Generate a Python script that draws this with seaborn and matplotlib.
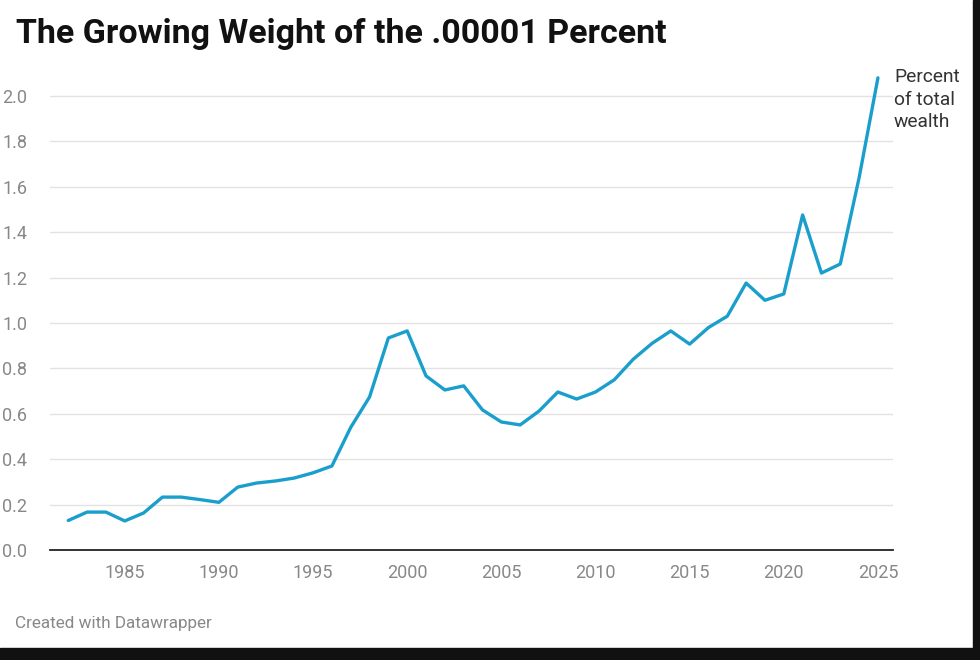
import pandas as pd
import matplotlib.pyplot as plt
import seaborn as sns
from matplotlib.patches import Rectangle

years = list(range(1982, 2026))
share = [0.13, 0.167, 0.167, 0.128, 0.163, 0.233, 0.233, 0.222, 0.21, 0.277,
         0.295, 0.304, 0.317, 0.34, 0.37, 0.54, 0.674, 0.934, 0.965, 0.767,
         0.705, 0.723, 0.617, 0.564, 0.551, 0.612, 0.696, 0.665, 0.696, 0.75,
         0.84, 0.91, 0.965, 0.907, 0.98, 1.03, 1.176, 1.10, 1.128, 1.476,
         1.22, 1.26, 1.64, 2.08]
y_ticks = [0.0, 0.2, 0.4, 0.6, 0.8, 1.0, 1.2, 1.4, 1.6, 1.8, 2.0]
x_ticks = [1985, 1990, 1995, 2000, 2005, 2010, 2015, 2020, 2025]

df = pd.DataFrame({'year': years, 'share': share})

sns.set_style('white')
plt.rcParams['font.family'] = ['Roboto', 'DejaVu Sans']

fig = plt.figure(figsize=(9.8, 6.6), dpi=100)
ax = fig.add_axes([50 / 980, 110 / 660, 843 / 980, 476.7 / 660])

sns.lineplot(data=df, x='year', y='share', ax=ax, color='#1a9fcd',
             linewidth=2.4, clip_on=False)

ax.set_xlim(1981.03, 2025.8)
ax.set_ylim(0, 2.1)
ax.set_yticks(y_ticks)
ax.set_xticks(x_ticks)
ax.set_yticklabels([f'{v:.1f}' for v in y_ticks])
ax.set_xlabel('')
ax.set_ylabel('')

for v in y_ticks[1:]:
    ax.axhline(v, color='#e2e2e2', linewidth=1, zorder=0)

for s in ['top', 'right', 'left']:
    ax.spines[s].set_visible(False)
ax.spines['bottom'].set_color('#222222')
ax.spines['bottom'].set_linewidth(1.3)

ax.tick_params(axis='x', length=0, labelsize=13, labelcolor='#888888', pad=10)
ax.tick_params(axis='y', length=0, labelsize=13, labelcolor='#888888', pad=10)
for lbl in ax.get_yticklabels():
    lbl.set_horizontalalignment('left')
    lbl.set_x(-34 / 843)

fig.text(16 / 980, 1 - 43 / 660, 'The Growing Weight of the .00001 Percent',
         fontsize=24.5, fontweight='bold', color='#111111', va='baseline')
fig.text(894 / 980, 1 - 68.5 / 660, 'Percent\nof total\nwealth',
         fontsize=13.8, color='#333333', va='top', linespacing=1.3)
fig.text(15 / 980, 1 - 628 / 660, 'Created with Datawrapper',
         fontsize=12.3, color='#888888', va='baseline')

# dark screenshot frame on the right and bottom edges
fig.patches.append(Rectangle((973 / 980, 0), 7 / 980, 1, transform=fig.transFigure,
                             color='#111111', zorder=10))
fig.patches.append(Rectangle((0, 0), 1, 12 / 660, transform=fig.transFigure,
                             color='#111111', zorder=10))

fig.savefig('out.png', dpi=100)
